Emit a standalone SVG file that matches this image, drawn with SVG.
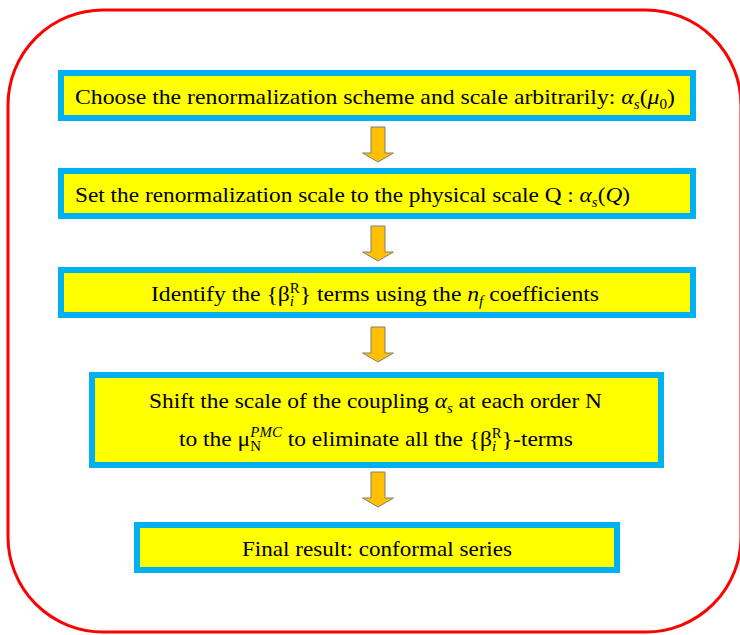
<svg xmlns="http://www.w3.org/2000/svg" width="740" height="635" viewBox="0 0 740 635">
<style>
.frame{fill:none;stroke:#FF0000;stroke-width:3}
.box{fill:#FFFF00;stroke:#00B0F0;stroke-width:6}
.t{font-family:"Liberation Serif","Times New Roman",serif;font-size:22px;fill:#000}
.m{font-style:italic}
.s{font-size:14px}
.arr{fill:#FFC000;stroke:#7F7F7F;stroke-width:1}
</style>
<defs>
<path id="arrow" class="arr" d="M-7,0 H7 V26 H15.5 L0,35 L-15.5,26 H-7 Z"/>
</defs>
<rect class="frame" x="8" y="10" width="733" height="622" rx="95" ry="95"/>
<g id="connectors">
<use href="#arrow" x="378" y="127"/>
<use href="#arrow" x="378" y="226"/>
<use href="#arrow" x="378" y="327"/>
<use href="#arrow" x="378" y="472"/>
</g>
<g id="n1">
<rect class="box" x="61" y="73" width="632" height="45"/>
<text class="t" x="75" y="104" textLength="600" lengthAdjust="spacingAndGlyphs">Choose the renormalization scheme and scale arbitrarily: <tspan class="m">α</tspan><tspan class="m s" dy="5">s</tspan><tspan dy="-5">(</tspan><tspan class="m">μ</tspan><tspan class="s" dy="5">0</tspan><tspan dy="-5">)</tspan></text>
</g>
<g id="n2">
<rect class="box" x="61" y="171" width="632" height="45"/>
<text class="t" x="75" y="202" textLength="555" lengthAdjust="spacingAndGlyphs">Set the renormalization scale to the physical scale Q : <tspan class="m">α</tspan><tspan class="m s" dy="5">s</tspan><tspan dy="-5">(</tspan><tspan class="m">Q</tspan>)</text>
</g>
<g id="n3">
<rect class="box" x="61" y="270" width="632" height="45"/>
<text class="t" x="151" y="301" textLength="448" lengthAdjust="spacingAndGlyphs">Identify the {β<tspan class="m s" dy="5">i</tspan><tspan class="s" dx="-4" dy="-13">R</tspan><tspan dy="8">} terms using the </tspan><tspan class="m">n</tspan><tspan class="m s" dy="5">f</tspan><tspan dy="-5"> coefficients</tspan></text>
</g>
<g id="n4">
<rect class="box" x="92" y="375" width="569" height="90"/>
<text class="t" x="149" y="408" textLength="453" lengthAdjust="spacingAndGlyphs">Shift the scale of the coupling <tspan class="m">α</tspan><tspan class="m s" dy="5">s</tspan><tspan dy="-5"> at each order N</tspan></text>
<text class="t" x="179" y="446" textLength="394" lengthAdjust="spacingAndGlyphs">to the μ<tspan class="s" dy="5">N</tspan><tspan class="m s" dx="-10" dy="-14">PMC</tspan><tspan dy="9"> to eliminate all the {β</tspan><tspan class="m s" dy="5">i</tspan><tspan class="s" dx="-4" dy="-13">R</tspan><tspan dy="8">}-terms</tspan></text>
</g>
<g id="n5">
<rect class="box" x="137" y="525" width="480" height="45"/>
<text class="t" x="242" y="556" textLength="270" lengthAdjust="spacingAndGlyphs">Final result: conformal series</text>
</g>
</svg>
